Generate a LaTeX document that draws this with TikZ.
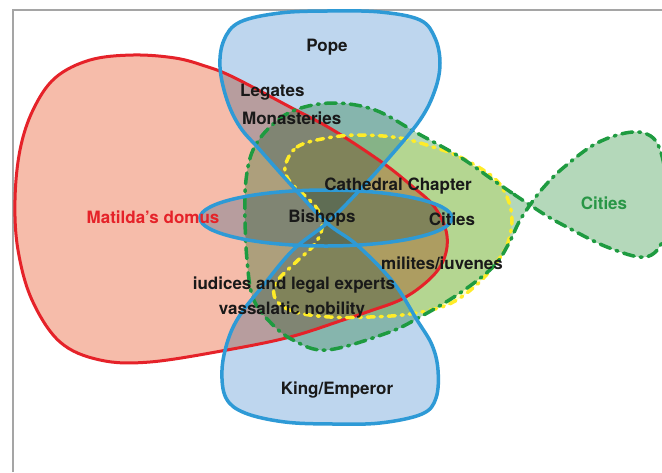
\documentclass[tikz,border=0pt]{standalone}
\usepackage{fontspec}
\setmainfont{TeX Gyre Heros}
\definecolor{redline}{RGB}{229,34,41}
\definecolor{redfill}{RGB}{246,188,170}
\definecolor{blueline}{RGB}{46,154,214}
\definecolor{bluefill}{RGB}{190,214,238}
\definecolor{greenline}{RGB}{30,155,64}
\definecolor{greenfill}{RGB}{180,216,186}
\definecolor{greentext}{RGB}{40,150,70}
\definecolor{yellowline}{RGB}{255,236,40}
\definecolor{yellowfill}{RGB}{255,253,200}
\definecolor{framegray}{RGB}{165,165,165}
\tikzset{
  lbl/.style={font=\bfseries\fontsize{17}{20}\selectfont, text=black!90, inner sep=0pt},
  mfill/.style={fill=#1, blend mode=multiply},
  redpath/.style={draw=redline, line width=3pt, line join=round},
  bluepath/.style={draw=blueline, line width=3.5pt, line join=round},
  greenpath/.style={draw=greenline, line width=3.5pt, line cap=round, dash pattern=on 11pt off 6pt on 2pt off 6pt},
  yellowpath/.style={draw=yellowline, line width=3.5pt, line cap=round, dash pattern=on 7pt off 6pt on 2pt off 6pt},
}
\begin{document}
\begin{tikzpicture}[x=1pt,y=-1pt]
\useasboundingbox (0,0) rectangle (662,472);
\fill[white] (0,0) rectangle (662,472);
% frame
\draw[framegray, line width=1.4pt] (13,472) -- (13,10) -- (662,10);

% shapes
\def\redshape{plot[smooth cycle, tension=0.6] coordinates {(15,200) (20,150) (33,110) (55,78) (90,60) (133,55) (175,58) (205,66) (233,77) (290,107) (333,130) (383,163) (413,187) (433,205) (445,227) (447,247) (440,267) (423,285) (400,300) (370,311) (343,320) (290,337) (227,350) (150,362) (100,360) (60,342) (32,300) (18,250)}}
\def\greenshape{plot[smooth cycle, tension=0.6] coordinates {(530,205) (512,193) (493,180) (460,157) (417,133) (375,110) (333,103) (295,110) (270,127) (253,150) (246,180) (245,217) (247,260) (253,298) (270,322) (293,340) (327,350) (387,333) (420,317) (460,293) (493,267) (508,245) (519,222) (530,205) (543,188) (563,168) (597,143) (633,132) (655,140) (665,170) (667,205) (663,240) (645,257) (607,247) (565,226) (547,216)}}
\def\yellowshape{plot[smooth cycle, tension=0.6] coordinates {(285,167) (297,147) (327,138) (360,135) (400,138) (433,147) (460,157) (493,177) (507,197) (512,220) (507,245) (493,267) (473,288) (447,305) (410,314) (370,317) (330,317) (295,312) (276,300) (276,283) (295,263) (314,245) (322,228) (318,210) (304,195) (290,182)}}
\def\blueshape{plot[smooth cycle, tension=0.6] coordinates {(327,223) (357,193) (387,160) (420,120) (435,90) (440,63) (435,38) (420,20) (380,12) (327,11) (280,13) (240,22) (224,40) (220,67) (227,100) (240,127) (260,150) (293,187) (327,223) (357,245) (393,282) (417,320) (432,345) (438,370) (436,398) (422,414) (380,423) (333,424) (285,422) (245,413) (226,398) (222,370) (228,340) (240,315) (262,287) (293,250)}}

\fill[mfill=redfill] \redshape;
\fill[mfill=greenfill] \greenshape;
\fill[mfill=yellowfill] \yellowshape;
\fill[mfill=bluefill] \blueshape;
\fill[mfill=bluefill] (326,218) ellipse [x radius=126, y radius=28];

\path[redpath] \redshape;
\path[yellowpath] \yellowshape;
\path[greenpath] \greenshape;
\path[bluepath] \blueshape;
\draw[blueline, line width=3.5pt] (326,218) ellipse [x radius=126, y radius=28];

% labels
\node[lbl] (pope) at (327,47) {Pope};
\node[lbl, anchor=west] (legates) at (240,92) {Legates};
\node[lbl, anchor=west] (monast) at (242,118) {Monasteries};
\node[lbl] (cathedral) at (398,186) {Cathedral Chapter};
\node[lbl] (bishops) at (322,218) {Bishops};
\node[lbl] (cities1) at (452,219) {Cities};
\node[lbl] (milites) at (442,263) {milites/iuvenes};
\node[lbl] (iudices) at (294,285) {iudices and legal experts};
\node[lbl] (vassal) at (292,310) {vassalatic nobility};
\node[lbl] (king) at (337,390) {King/Emperor};
\node[lbl, text=redline] (domus) at (153,217) {Matilda’s domus};
\node[lbl, text=greentext] (cities2) at (604,203) {Cities};
\end{tikzpicture}
\end{document}
